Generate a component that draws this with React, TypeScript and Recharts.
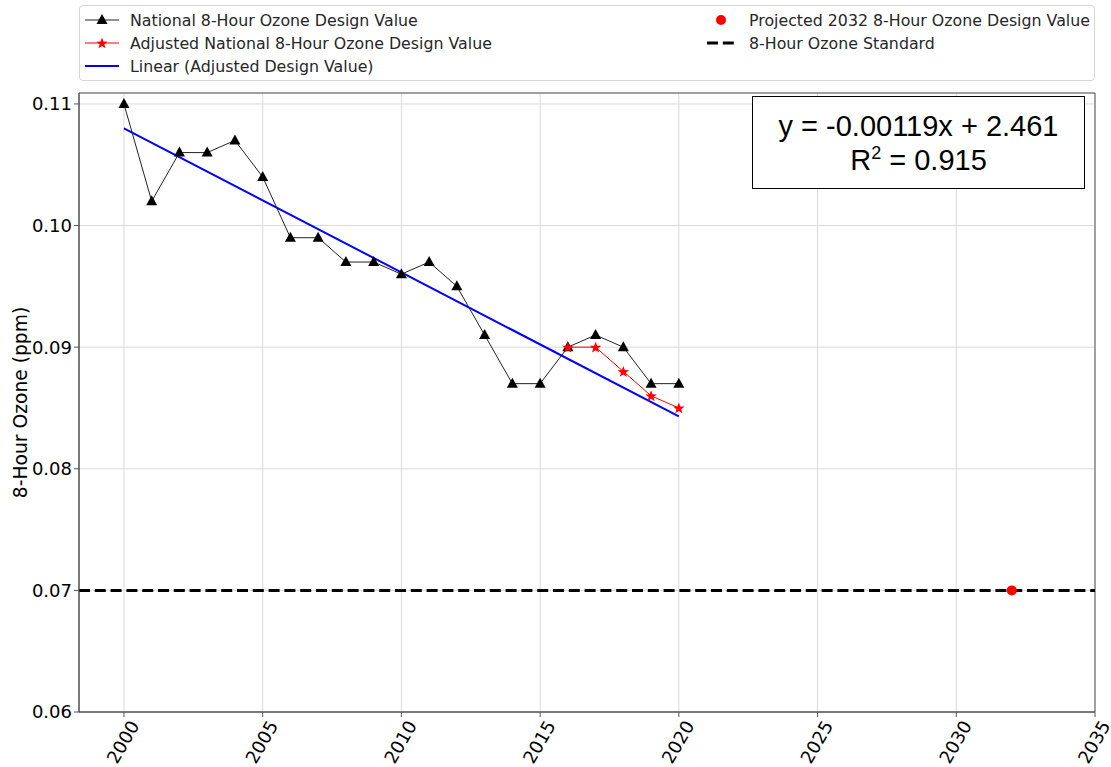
import {
  LineChart,
  Line,
  XAxis,
  YAxis,
  CartesianGrid,
  ReferenceLine,
  ReferenceArea,
} from "recharts";

// national design values
const years = [
  2000, 2001, 2002, 2003, 2004, 2005, 2006, 2007, 2008, 2009, 2010, 2011, 2012,
  2013, 2014, 2015, 2016, 2017, 2018, 2019, 2020,
];
const nationalDV = [
  0.11, 0.102, 0.106, 0.106, 0.107, 0.104, 0.099, 0.099, 0.097, 0.097, 0.096,
  0.097, 0.095, 0.091, 0.087, 0.087, 0.09, 0.091, 0.09, 0.087, 0.087,
];
const adjustedYears = [2016, 2017, 2018, 2019, 2020];
const adjustedDV = [0.09, 0.09, 0.088, 0.086, 0.085];
const trendYears = [2000, 2020];
const trendDV = [0.108, 0.0843];
const projectedYears = [2032];
const projectedDV = [0.07];
const standardValue = 0.07;

const xTicks = [2000, 2005, 2010, 2015, 2020, 2025, 2030, 2035];
const yTicks = [0.06, 0.07, 0.08, 0.09, 0.1, 0.11];
const xDomain = [1998.38, 2035];
const yDomain = [0.06, 0.1109];

const toRows = (xs: number[], vs: number[]) =>
  xs.map((x, i) => ({ year: x, v: vs[i] }));

const FONT = "'DejaVu Sans', sans-serif";
const TICK_FS = 18;

const Triangle = (p: any) => {
  const { cx, cy } = p;
  if (cx == null || cy == null) return null;
  return (
    <path
      key={`t-${p.index}`}
      d={`M${cx},${cy - 6} L${cx + 5.5},${cy + 4} L${cx - 5.5},${cy + 4} Z`}
      fill="#000"
    />
  );
};

function starPath(cx: number, cy: number, r: number) {
  const pts: string[] = [];
  for (let i = 0; i < 10; i++) {
    const rad = i % 2 === 0 ? r : r * 0.42;
    const a = -Math.PI / 2 + (i * Math.PI) / 5;
    pts.push(`${cx + rad * Math.cos(a)},${cy + rad * Math.sin(a)}`);
  }
  return "M" + pts.join(" L") + " Z";
}

const Star = (p: any) => {
  const { cx, cy } = p;
  if (cx == null || cy == null) return null;
  return <path key={`s-${p.index}`} d={starPath(cx, cy + 0.5, 6)} fill="#ff0000" />;
};

const XTick = (p: any) => {
  const { x, payload } = p;
  return (
    <g transform={`translate(${x - 1},${742})`}>
      <text
        transform="rotate(-60)"
        textAnchor="middle"
        dominantBaseline="central"
        fontSize={TICK_FS}
        fontFamily={FONT}
        fill="#000"
      >
        {payload.value}
      </text>
    </g>
  );
};

const legendText = { fontSize: 15.8, color: "#262626", fontFamily: FONT };

function LegendBox() {
  const row = (top: number, left: number) => ({
    position: "absolute" as const,
    top,
    left,
    display: "flex",
    alignItems: "center",
    height: 22,
  });
  return (
    <div
      style={{
        position: "absolute",
        left: 79,
        top: 5,
        width: 1014,
        height: 74,
        border: "1px solid #d6d6d6",
        borderRadius: 4,
        background: "#fff",
        ...legendText,
      }}
    >
      <div style={row(3, 5)}>
        <svg width={34} height={22}>
          <line x1={0} y1={11} x2={34} y2={11} stroke="#222" strokeWidth={1} />
          <path d="M17,5 L22.5,15 L11.5,15 Z" fill="#000" />
        </svg>
        <span style={{ marginLeft: 11 }}>National 8-Hour Ozone Design Value</span>
      </div>
      <div style={row(26, 5)}>
        <svg width={34} height={22}>
          <line x1={0} y1={11} x2={34} y2={11} stroke="#ff0000" strokeWidth={1} />
          <path d={starPath(17, 11.5, 6)} fill="#ff0000" />
        </svg>
        <span style={{ marginLeft: 11 }}>Adjusted National 8-Hour Ozone Design Value</span>
      </div>
      <div style={row(49, 5)}>
        <svg width={34} height={22}>
          <line x1={0} y1={11} x2={34} y2={11} stroke="#0000ff" strokeWidth={2} />
        </svg>
        <span style={{ marginLeft: 11 }}>Linear (Adjusted Design Value)</span>
      </div>
      <div style={row(3, 624)}>
        <svg width={34} height={22}>
          <circle cx={17} cy={11} r={5} fill="#ff0000" />
        </svg>
        <span style={{ marginLeft: 11 }}>Projected 2032 8-Hour Ozone Design Value</span>
      </div>
      <div style={row(26, 624)}>
        <svg width={34} height={22}>
          <line
            x1={3}
            y1={11}
            x2={31}
            y2={11}
            stroke="#000"
            strokeWidth={3}
            strokeDasharray="11 4.8"
          />
        </svg>
        <span style={{ marginLeft: 11 }}>8-Hour Ozone Standard</span>
      </div>
    </div>
  );
}

function EquationBox() {
  return (
    <div
      style={{
        position: "absolute",
        left: 752,
        top: 96,
        width: 331,
        height: 91,
        border: "1.5px solid #000",
        background: "#fff",
        display: "flex",
        flexDirection: "column",
        alignItems: "center",
        justifyContent: "center",
        fontFamily: "'Liberation Sans', Arial, sans-serif",
        fontSize: 29,
        lineHeight: "34px",
        color: "#000",
      }}
    >
      <div>y = -0.00119x + 2.461</div>
      <div>
        R<sup style={{ fontSize: 18, lineHeight: 0 }}>2</sup> = 0.915
      </div>
    </div>
  );
}

export default function App() {
  return (
    <div
      style={{
        position: "absolute",
        left: 0,
        top: 0,
        width: 1111,
        height: 767,
        background: "#fff",
        fontFamily: FONT,
        overflow: "hidden",
      }}
    >
      <LineChart
        width={1111}
        height={767}
        margin={{ top: 93, right: 16, bottom: 0, left: 19 }}
        style={{ overflow: "visible" }}
      >
        <CartesianGrid stroke="#d9d9d9" strokeWidth={1} />
        <XAxis
          type="number"
          dataKey="year"
          domain={xDomain}
          ticks={xTicks}
          allowDataOverflow
          height={55}
          tickSize={5}
          tick={<XTick />}
          stroke="#555"
          interval={0}
        />
        <YAxis
          type="number"
          domain={yDomain}
          ticks={yTicks}
          allowDataOverflow
          width={60}
          tickSize={5}
          tickMargin={2}
          stroke="#555"
          tick={{ fontSize: TICK_FS, fill: "#000", fontFamily: FONT }}
          tickFormatter={(v: number) => v.toFixed(2)}
          interval={0}
          label={{
            value: "8-Hour Ozone (ppm)",
            angle: -90,
            position: "center",
            dx: -29,
            fontSize: 18.7,
            fill: "#000",
            fontFamily: FONT,
          }}
        />
        <ReferenceArea
          x1={xDomain[0]}
          x2={xDomain[1]}
          y1={yDomain[0]}
          y2={yDomain[1]}
          fill="none"
          stroke="#555"
          strokeWidth={1}
        />
        <ReferenceLine
          y={standardValue}
          stroke="#000"
          strokeWidth={3}
          strokeDasharray="11 4.8"
        />
        <Line
          data={toRows(trendYears, trendDV)}
          dataKey="v"
          stroke="#0000ff"
          strokeWidth={2}
          dot={false}
          isAnimationActive={false}
        />
        <Line
          data={toRows(years, nationalDV)}
          dataKey="v"
          stroke="#222"
          strokeWidth={1}
          dot={Triangle}
          isAnimationActive={false}
        />
        <Line
          data={toRows(adjustedYears, adjustedDV)}
          dataKey="v"
          stroke="#ff0000"
          strokeWidth={1}
          dot={Star}
          isAnimationActive={false}
        />
        <Line
          data={toRows(projectedYears, projectedDV)}
          dataKey="v"
          stroke="none"
          dot={{ r: 5, fill: "#ff0000", stroke: "none" }}
          isAnimationActive={false}
        />
      </LineChart>
      <LegendBox />
      <EquationBox />
    </div>
  );
}
